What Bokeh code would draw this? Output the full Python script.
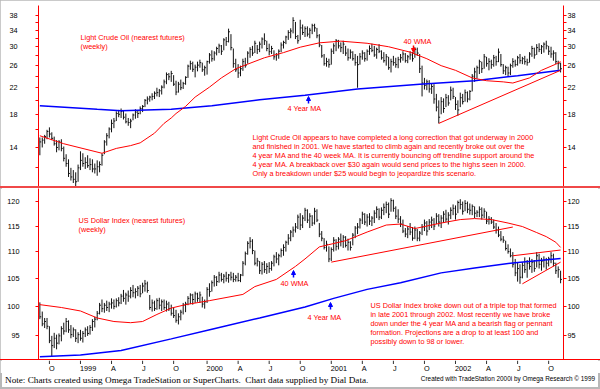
import pandas as pd
from bokeh.plotting import figure
from bokeh.layouts import column
from bokeh.core.properties import value
from bokeh.models import (Range1d, FixedTicker, LogAxis, PrintfTickFormatter, Label, Arrow,
                          NormalHead, Div, ColumnDataSource)
from bokeh.embed import file_html
from bokeh.resources import INLINE

# ---------------- data (weekly bars) ----------------
first_week = "1998-09-04"

oil_high = [
    15.1, 15.1, 15.4, 16.0, 16.3, 15.7, 15.2, 14.8, 14.8, 14.9,
    14.1, 13.3, 12.8, 12.0, 11.8, 11.6, 12.3, 13.6, 13.4, 13.0,
    13.2, 12.9, 12.8, 12.4, 12.7, 12.6, 13.4, 14.8, 15.6, 16.3,
    17.3, 17.5, 18.4, 18.6, 18.8, 18.5, 18.1, 17.5, 17.4, 18.1,
    18.7, 18.5, 19.1, 19.3, 20.2, 20.6, 20.7, 21.1, 21.4, 22.0,
    21.8, 22.4, 23.4, 24.7, 24.6, 25.0, 24.2, 23.2, 23.0, 23.4,
    23.0, 24.0, 26.2, 27.0, 26.8, 26.2, 26.8, 27.2, 26.6, 26.0,
    27.0, 28.6, 29.2, 29.0, 30.0, 30.7, 30.4, 32.0, 32.3, 34.4,
    33.0, 29.6, 27.4, 26.3, 26.0, 27.4, 27.6, 29.0, 29.9, 30.2,
    31.4, 30.4, 31.2, 32.2, 33.2, 31.4, 30.7, 30.2, 29.2, 28.6,
    29.4, 31.0, 31.4, 32.6, 34.0, 34.5, 37.5, 36.2, 32.8, 36.8,
    35.5, 35.0, 35.0, 34.6, 35.7, 35.7, 34.6, 33.0, 30.4, 28.4,
    27.6, 27.4, 29.6, 30.8, 31.8, 31.6, 31.0, 31.4, 30.2, 29.6,
    29.4, 29.0, 28.4, 28.0, 28.6, 29.2, 28.8, 29.4, 30.3, 30.7,
    30.2, 29.8, 30.6, 29.2, 28.8, 28.4, 27.8, 27.4, 28.0, 27.6,
    27.8, 28.4, 29.0, 28.6, 28.2, 29.0, 28.8, 29.9, 29.8, 28.4,
    26.0, 23.7, 23.4, 23.3, 22.8, 22.6, 21.0, 20.0, 20.5, 20.3,
    21.0, 20.8, 22.2, 22.0, 20.5, 20.0, 21.2, 21.0, 21.7, 21.4,
    21.6, 24.4, 25.6, 26.0, 27.2, 26.8, 28.4, 27.8, 27.5, 27.2,
    28.2, 28.0, 29.6, 28.4, 26.3, 26.0, 25.8, 26.4, 27.5, 27.2,
    28.0, 28.4, 27.8, 28.0, 27.4, 28.8, 30.2, 29.8, 30.6, 30.8,
    30.4, 31.0, 31.4, 30.2, 30.0, 29.2, 28.8, 27.0, 26.6]
oil_low = [
    13.2, 14.0, 14.4, 14.9, 15.1, 14.8, 14.2, 13.5, 13.7, 13.6,
    12.6, 12.1, 11.2, 10.9, 10.7, 10.4, 10.8, 11.8, 12.1, 11.9,
    12.0, 11.8, 11.6, 11.5, 11.3, 11.6, 12.2, 13.3, 14.2, 15.0,
    15.7, 16.2, 17.1, 17.6, 17.5, 17.3, 16.8, 16.5, 16.2, 17.2,
    17.4, 17.5, 18.0, 18.3, 19.0, 19.4, 19.8, 20.0, 20.2, 20.6,
    20.5, 20.9, 21.9, 22.6, 23.3, 23.0, 22.3, 20.8, 21.2, 21.6,
    21.8, 22.5, 23.7, 25.2, 24.8, 23.8, 24.9, 25.6, 24.8, 24.1,
    24.3, 26.4, 26.8, 27.0, 28.1, 28.6, 28.2, 29.2, 30.2, 31.0,
    29.2, 25.6, 24.8, 23.7, 24.0, 25.0, 25.6, 26.4, 27.6, 28.0,
    28.6, 28.4, 28.8, 29.6, 30.4, 29.0, 28.1, 28.4, 27.2, 27.0,
    27.4, 28.8, 29.6, 30.6, 31.6, 32.0, 33.2, 31.8, 30.7, 31.6,
    32.8, 32.3, 32.4, 32.0, 33.0, 33.6, 32.0, 29.9, 27.6, 26.0,
    25.8, 25.6, 26.2, 28.4, 29.0, 29.6, 28.8, 28.4, 28.0, 27.0,
    27.4, 27.0, 26.0, 22.0, 26.2, 27.2, 26.8, 27.0, 28.2, 28.8,
    27.8, 27.4, 28.6, 27.2, 26.6, 26.0, 25.2, 24.7, 26.0, 25.6,
    25.5, 26.6, 27.0, 26.6, 26.5, 27.2, 26.8, 27.6, 28.0, 24.6,
    20.6, 21.7, 21.6, 21.2, 21.0, 19.5, 18.4, 16.8, 18.0, 18.2,
    19.0, 19.2, 20.0, 20.2, 18.6, 17.8, 19.0, 19.4, 19.8, 19.7,
    20.0, 21.4, 23.0, 23.6, 24.4, 24.6, 25.4, 25.8, 25.1, 25.4,
    25.8, 26.0, 26.7, 25.8, 24.4, 24.2, 24.0, 24.2, 25.6, 25.8,
    26.0, 26.4, 26.3, 26.2, 26.0, 26.6, 27.8, 27.4, 28.2, 28.8,
    28.4, 28.7, 29.4, 28.2, 27.6, 27.0, 26.3, 25.2, 24.7]
oil_close = [
    14.6, 14.8, 15.2, 15.8, 15.5, 15.0, 14.4, 14.0, 14.6, 13.9,
    12.9, 12.4, 11.5, 11.2, 11.0, 10.8, 12.0, 12.7, 12.4, 12.5,
    12.2, 12.3, 11.9, 11.9, 12.1, 12.3, 13.2, 14.6, 15.3, 16.1,
    16.8, 17.1, 18.1, 18.0, 18.4, 17.6, 17.0, 16.9, 17.1, 17.9,
    18.3, 18.1, 18.8, 19.1, 20.0, 20.2, 20.5, 20.6, 21.1, 21.2,
    21.5, 22.1, 23.0, 24.3, 23.9, 24.5, 22.6, 21.3, 22.6, 22.0,
    22.7, 23.8, 25.9, 26.4, 25.3, 25.7, 26.1, 26.6, 25.2, 25.6,
    26.8, 28.2, 27.4, 28.6, 29.6, 30.2, 29.0, 31.6, 31.2, 33.6,
    29.8, 26.4, 25.2, 24.6, 25.4, 26.8, 26.0, 28.6, 29.4, 28.6,
    30.8, 29.4, 30.6, 31.8, 31.4, 29.6, 28.9, 29.6, 27.8, 28.2,
    29.0, 30.4, 31.0, 32.3, 33.4, 33.8, 36.6, 32.4, 31.4, 34.6,
    33.4, 34.4, 33.0, 34.0, 35.2, 34.6, 32.6, 30.4, 28.0, 26.4,
    26.8, 26.2, 29.0, 30.2, 31.4, 30.2, 29.8, 30.6, 28.6, 27.6,
    28.8, 27.4, 26.6, 26.2, 27.8, 28.6, 27.4, 29.0, 29.6, 29.2,
    28.2, 29.4, 29.0, 27.6, 27.0, 27.8, 25.6, 26.8, 26.6, 26.2,
    27.2, 27.6, 28.4, 27.0, 27.8, 28.2, 27.4, 29.4, 28.6, 25.4,
    22.8, 22.4, 23.0, 21.8, 22.2, 20.2, 19.0, 17.6, 19.8, 18.8,
    20.4, 19.6, 21.6, 20.6, 19.4, 18.6, 20.4, 19.8, 21.2, 20.2,
    21.4, 24.0, 24.8, 25.6, 26.8, 25.4, 27.8, 26.4, 26.8, 26.2,
    27.6, 26.8, 28.8, 26.2, 25.0, 25.6, 24.6, 26.0, 26.8, 26.2,
    27.6, 27.0, 27.4, 26.8, 26.6, 28.4, 29.6, 28.2, 29.8, 29.4,
    30.0, 30.6, 30.2, 29.0, 28.4, 28.6, 26.8, 26.4, 25.4]

usd_high = [
    100.7, 99.1, 98.0, 98.0, 96.6, 95.0, 95.5, 95.2, 95.4, 96.6,
    97.2, 98.0, 97.6, 96.8, 96.4, 96.1, 95.6, 96.0, 95.8, 96.4,
    96.6, 96.8, 97.8, 98.2, 99.2, 100.6, 101.2, 100.6, 101.0, 100.8,
    101.4, 101.2, 101.4, 101.6, 102.2, 102.9, 102.4, 102.8, 103.4, 103.8,
    103.2, 103.6, 103.8, 104.2, 104.7, 104.4, 102.0, 101.2, 101.0, 101.4,
    101.5, 101.2, 101.2, 101.0, 100.8, 100.3, 99.8, 99.4, 98.8, 99.4,
    100.6, 100.8, 101.8, 102.3, 102.2, 102.6, 102.4, 102.6, 101.7, 101.2,
    103.4, 104.1, 104.6, 105.6, 105.4, 106.2, 106.0, 105.8, 106.2, 105.8,
    106.2, 106.0, 105.6, 106.0, 105.8, 108.2, 110.0, 112.0, 112.8, 112.4,
    110.2, 108.8, 108.2, 108.0, 108.2, 107.8, 108.0, 108.2, 109.4, 109.9,
    109.6, 110.6, 111.4, 112.1, 113.4, 114.2, 114.9, 115.6, 117.3, 117.6,
    117.2, 118.7, 118.4, 117.6, 117.2, 118.7, 118.4, 115.6, 114.0, 112.6,
    112.1, 111.0, 110.8, 112.8, 112.4, 112.8, 113.5, 113.2, 113.0, 112.5,
    112.0, 113.6, 115.0, 115.6, 116.6, 117.9, 117.6, 117.4, 117.6, 117.0,
    118.2, 119.0, 118.6, 118.8, 119.6, 120.0, 119.8, 120.7, 120.4, 119.0,
    118.4, 117.0, 116.3, 114.6, 115.0, 115.6, 114.8, 114.9, 114.4, 114.0,
    115.4, 116.3, 116.0, 116.4, 116.9, 116.6, 117.6, 117.4, 117.2, 118.0,
    118.3, 117.8, 118.8, 119.4, 119.2, 120.2, 120.5, 120.0, 120.3, 120.0,
    119.6, 119.4, 119.0, 118.2, 119.0, 118.8, 118.6, 117.9, 117.0, 116.8,
    116.3, 115.6, 114.9, 114.0, 113.0, 112.1, 111.4, 110.6, 109.9, 108.6,
    107.9, 107.6, 108.0, 108.9, 108.4, 108.9, 108.6, 108.4, 109.9, 109.6,
    108.8, 109.1, 108.8, 109.0, 109.9, 109.6, 107.9, 107.2, 106.4]
usd_low = [
    97.8, 96.6, 96.3, 96.1, 93.8, 91.6, 93.0, 92.8, 93.6, 94.1,
    95.2, 95.6, 95.5, 94.6, 94.8, 94.0, 93.8, 94.2, 93.9, 94.8,
    95.0, 95.2, 95.8, 96.4, 97.6, 98.6, 99.0, 98.9, 99.2, 99.0,
    99.6, 99.5, 99.8, 100.0, 100.4, 100.8, 100.3, 100.8, 101.4, 101.6,
    101.4, 101.8, 101.6, 102.3, 102.6, 102.4, 99.4, 99.1, 99.2, 99.4,
    99.5, 99.2, 99.4, 99.1, 99.2, 98.4, 98.0, 97.2, 96.9, 97.6,
    98.6, 99.0, 100.2, 100.4, 100.3, 100.6, 100.8, 100.6, 99.8, 99.6,
    100.6, 101.7, 102.6, 103.5, 103.6, 104.2, 104.4, 104.1, 104.4, 104.2,
    104.6, 104.3, 104.4, 104.4, 104.3, 105.4, 107.4, 109.4, 110.6, 109.5,
    107.4, 107.2, 105.8, 105.7, 106.0, 105.8, 106.0, 106.4, 107.2, 107.8,
    107.4, 108.9, 109.2, 110.0, 111.3, 112.0, 112.8, 113.7, 114.4, 114.2,
    114.6, 116.0, 115.6, 114.6, 115.0, 115.3, 115.8, 112.8, 112.0, 110.4,
    110.0, 108.0, 108.2, 110.0, 110.2, 110.4, 111.0, 110.7, 110.8, 110.2,
    110.2, 111.2, 112.6, 113.4, 114.5, 115.4, 115.2, 114.9, 115.2, 115.0,
    115.6, 116.6, 116.2, 116.4, 117.2, 117.6, 116.6, 117.9, 117.9, 116.4,
    115.6, 114.8, 113.6, 112.8, 112.6, 113.2, 112.1, 112.4, 112.0, 112.0,
    113.2, 114.0, 113.1, 114.2, 114.6, 114.2, 115.4, 114.9, 114.6, 115.6,
    115.8, 115.3, 116.4, 117.2, 116.3, 117.6, 118.4, 117.3, 118.0, 117.6,
    117.3, 117.2, 116.6, 116.8, 116.8, 116.3, 116.6, 115.4, 115.3, 115.4,
    114.4, 113.5, 112.8, 112.0, 111.7, 110.2, 109.6, 108.9, 107.0, 105.4,
    104.4, 104.0, 105.0, 106.0, 105.1, 106.6, 106.0, 106.2, 107.0, 106.8,
    106.4, 107.0, 106.6, 107.2, 107.8, 107.2, 105.8, 105.1, 104.1]
usd_close = [
    98.2, 97.0, 97.4, 96.6, 94.2, 93.4, 94.6, 93.8, 95.0, 96.2,
    95.8, 97.4, 96.0, 95.2, 96.0, 94.6, 95.2, 94.6, 95.4, 96.0,
    95.4, 96.4, 97.4, 97.8, 98.8, 100.2, 99.6, 100.2, 99.8, 100.4,
    100.6, 100.0, 101.0, 100.6, 101.8, 101.4, 102.0, 101.8, 102.8, 102.4,
    102.6, 103.2, 102.2, 103.6, 104.0, 102.8, 99.8, 100.6, 99.6, 101.0,
    100.2, 100.8, 99.8, 100.4, 99.6, 98.8, 98.4, 97.6, 98.2, 99.0,
    100.2, 100.4, 101.4, 102.0, 101.2, 102.2, 101.4, 102.0, 100.4, 100.8,
    103.0, 102.6, 104.2, 105.2, 104.4, 105.6, 104.8, 105.4, 105.0, 105.6,
    105.2, 104.8, 105.2, 104.6, 105.6, 107.8, 109.6, 111.6, 112.0, 110.2,
    107.8, 108.2, 106.4, 107.6, 106.6, 107.2, 106.8, 107.8, 109.0, 108.6,
    109.2, 110.2, 110.8, 111.8, 112.6, 113.8, 114.2, 114.8, 116.8, 115.2,
    116.6, 118.2, 116.2, 117.0, 115.6, 118.0, 116.2, 113.4, 112.6, 110.8,
    111.4, 108.6, 110.4, 112.2, 111.0, 112.4, 112.0, 112.8, 111.2, 111.8,
    110.8, 113.2, 114.6, 114.8, 116.2, 117.4, 115.8, 116.8, 116.0, 116.6,
    117.6, 118.4, 116.8, 118.2, 118.8, 119.4, 117.4, 120.2, 118.6, 117.0,
    116.4, 115.4, 114.0, 113.4, 114.4, 113.8, 112.6, 114.2, 112.6, 113.6,
    114.8, 115.6, 114.0, 115.8, 116.2, 115.0, 117.0, 115.8, 116.6, 117.4,
    116.4, 117.2, 118.2, 118.6, 117.4, 119.8, 119.4, 118.0, 119.6, 118.4,
    118.2, 119.0, 117.6, 117.8, 118.4, 117.2, 118.0, 116.0, 116.4, 115.8,
    114.8, 114.2, 113.2, 112.4, 112.2, 110.6, 110.0, 109.2, 107.6, 106.0,
    106.8, 105.2, 107.4, 106.6, 107.8, 107.2, 108.0, 106.8, 109.2, 107.6,
    108.2, 108.4, 107.8, 108.6, 109.2, 107.8, 106.4, 106.6, 104.8]

# moving averages and trendlines (week number -> value)
oil_ma40_wk = [0, 10, 26, 32, 38, 42, 48, 52, 55, 57, 61, 65, 71, 76, 82, 87, 94, 102, 109, 117,
               126, 137, 146, 155, 162, 168, 174, 181, 187, 194, 198, 205, 210, 216, 218]
oil_ma40 = [15.3, 14.4, 13.4, 13.9, 14.2, 14.5, 15.6, 16.8, 17.5, 18.1, 19.1, 20.5, 22.1, 23.7, 25.4,
            26.3, 27.6, 28.7, 29.9, 30.9, 31.3, 30.8, 30.0, 28.8, 27.4, 26.0, 25.1, 23.7, 23.2, 23.0,
            22.8, 23.7, 25.1, 26.3, 26.8]
oil_ma4y_wk = [0, 24, 34, 55, 72, 92, 111, 133, 159, 182, 200, 218]
oil_ma4y = [19.2, 18.7, 18.5, 18.7, 19.2, 20.1, 20.8, 21.8, 22.6, 23.2, 24.1, 25.1]
oil_trend_wk = [167, 218]
oil_trend = [16.8, 25.1]

usd_ma40_wk = [0, 9, 17, 24, 31, 38, 43, 49, 55, 61, 71, 85, 90, 99, 107, 111, 117, 128, 137, 145,
               151, 157, 168, 176, 182, 189, 196, 202, 208, 212, 216, 218]
usd_ma40 = [100.3, 99.8, 99.2, 98.0, 97.4, 97.2, 97.4, 98.6, 99.7, 100.3, 101.0, 102.1, 103.5, 104.8,
            107.2, 108.6, 110.9, 112.1, 113.8, 115.2, 115.4, 114.5, 115.6, 116.3, 116.5, 116.3, 115.6,
            114.9, 113.7, 112.9, 111.8, 110.8]
usd_ma4y_wk = [0, 17, 34, 55, 72, 92, 111, 123, 137, 151, 168, 182, 199, 218]
usd_ma4y = [91.6, 91.9, 92.6, 94.5, 96.1, 98.0, 99.9, 101.4, 103.0, 104.2, 106.0, 106.9, 107.9, 108.7]
usd_trend1_wk = [122, 198]
usd_trend1 = [108.0, 114.8]
usd_flag_top_wk = [198, 218]
usd_flag_top = [109.2, 110.3]
usd_flag_bot_wk = [202, 218]
usd_flag_bot = [104.0, 108.0]

oil_ticks = [14, 18, 22, 26, 30, 34, 38]
oil_minor_ticks = [12, 16, 20, 24, 28, 32, 36]
usd_ticks = [95, 100, 105, 110, 115, 120]
quarter_labels = {1: None, 4: "A", 7: "J", 10: "O"}

oil_text = ["Light Crude Oil appears to have completed a long correction that got underway in 2000",
            "and finished in 2001. We have started to climb again and recently broke out over the",
            "4 year MA and the 40 week MA. It is currently bouncing off trendline support around the",
            "4 year MA. A breakback over $30 again would send prices to the highs seen in 2000.",
            " Only a breakdown under $25 would begin to jeopardize this scenario."]
usd_text = ["US Dollar Index broke down out of a triple top that formed",
            "in late 2001 through 2002. Most recently we have broke",
            "down under the 4 year MA and a bearish flag or pennant",
            "formation. Projections are a drop to at least 100 and",
            "possibly down to 98 or lower."]
note_text = "Note: Charts created using Omega TradeStation or SuperCharts.&nbsp; Chart data supplied by Dial Data."
credit_text = "Created with TradeStation 2000i by Omega Research &copy; 1999"

# ---------------- build ----------------
RED = "#ff0000"
BLUE = "#0000ff"
FONT = "Liberation Sans"
TXT = "7.3px"
W = 600

n = min(len(a) for a in (oil_high, oil_low, oil_close, usd_high, usd_low, usd_close))
weeks = pd.date_range(first_week, periods=n, freq="7D")
tick_len = pd.Timedelta(days=4)

def wk_dates(idx):
    return [weeks[min(i, n - 1)] for i in idx]

xr = Range1d(start=pd.Timestamp("1998-08-31"), end=pd.Timestamp("2002-11-16 12:00"))

def make_panel(height, yr, btop, bbottom, ytype="log"):
    p = figure(width=W, height=height, x_range=xr, y_range=yr, x_axis_type="datetime",
               y_axis_type=ytype, x_axis_location=None,
               y_axis_location="left" if ytype == "log" else None,
               toolbar_location=None, output_backend="svg",
               min_border_left=38, min_border_right=37, min_border_top=btop,
               min_border_bottom=bbottom)
    p.outline_line_color = None
    p.grid.visible = False
    p.background_fill_color = "white"
    p.border_fill_color = "white"
    return p

def style_y(ax, standoff):
    ax.axis_line_color = RED
    ax.major_tick_line_color = RED
    ax.minor_tick_line_color = RED
    ax.major_tick_out = 3
    ax.major_tick_in = 0
    ax.minor_tick_out = 3
    ax.minor_tick_in = 0
    ax.major_label_text_font = FONT
    ax.major_label_text_font_size = "7.3px"
    ax.major_label_text_color = "black"
    ax.major_label_standoff = standoff

def draw_bars(p, hi, lo, cl):
    src = ColumnDataSource(dict(x=weeks, x1=weeks + tick_len, hi=hi[:n], lo=lo[:n], cl=cl[:n]))
    p.segment(x0="x", y0="lo", x1="x", y1="hi", source=src, line_color="#111111", line_width=1)
    p.segment(x0="x", y0="cl", x1="x1", y1="cl", source=src, line_color="#111111", line_width=1)

def add_text(p, x, y, text, color=RED, size=TXT, align="left", font=FONT):
    p.add_layout(Label(x=x, y=y, x_units="screen", y_units="screen", text=text,
                       text_color=color, text_font_size=size, text_font=font,
                       text_align=align, text_baseline="middle"))

def add_arrow(p, x, y0, y1, color):
    p.add_layout(Arrow(x_start=x, y_start=y0, x_end=x, y_end=y1,
                       start_units="screen", end_units="screen",
                       line_color=color, line_width=1.5,
                       end=NormalHead(size=4, fill_color=color, line_color=color)))

def hline(h, color):
    return Div(text="", width=W, height=h, margin=0,
               styles={"background-color": color})

# ---- top panel: crude oil (page y 5..186) ----
p1 = make_panel(186, Range1d(10.42, 40.99), 5, 0)
draw_bars(p1, oil_high, oil_low, oil_close)
p1.line(wk_dates(oil_ma4y_wk), oil_ma4y, line_color=BLUE, line_width=1.5)
p1.line(wk_dates(oil_ma40_wk), oil_ma40, line_color=RED, line_width=1)
p1.line(wk_dates(oil_trend_wk), oil_trend, line_color=RED, line_width=1)

ly1 = p1.yaxis[0]
ly1.ticker = FixedTicker(ticks=oil_ticks, minor_ticks=oil_minor_ticks)
ly1.formatter = PrintfTickFormatter(format="%d")
style_y(ly1, 18)
ry1 = LogAxis(ticker=FixedTicker(ticks=oil_ticks, minor_ticks=oil_minor_ticks),
              formatter=PrintfTickFormatter(format="%d"))
style_y(ry1, 1)
p1.add_layout(ry1, "right")

add_text(p1, 42, 149, "Light Crude Oil (nearest futures)")
add_text(p1, 42, 140, "(weekly)")
add_text(p1, 365, 145, "40 WMA")
add_text(p1, 249, 78, "4 Year MA")
for i, line in enumerate(oil_text):
    add_text(p1, 214, 49 - 9 * i, line)
add_arrow(p1, 375, 141, 134, RED)
add_arrow(p1, 270, 83, 90, BLUE)

# ---- bottom panel: US dollar index (page y 188..359) ----
p2 = make_panel(171, Range1d(91.17, 122.76), 0, 0)
draw_bars(p2, usd_high, usd_low, usd_close)
p2.line(wk_dates(usd_ma4y_wk), usd_ma4y, line_color=BLUE, line_width=1.5)
p2.line(wk_dates(usd_ma40_wk), usd_ma40, line_color=RED, line_width=1)
p2.line(wk_dates(usd_trend1_wk), usd_trend1, line_color=RED, line_width=1)
p2.line(wk_dates(usd_flag_top_wk), usd_flag_top, line_color=RED, line_width=1)
p2.line(wk_dates(usd_flag_bot_wk), usd_flag_bot, line_color=RED, line_width=1)

ly2 = p2.yaxis[0]
ly2.ticker = FixedTicker(ticks=usd_ticks)
ly2.formatter = PrintfTickFormatter(format="%d")
style_y(ly2, 16)
ry2 = LogAxis(ticker=FixedTicker(ticks=usd_ticks), formatter=PrintfTickFormatter(format="%d"))
style_y(ry2, 1)
p2.add_layout(ry2, "right")

add_text(p2, 40, 139, "US Dollar Index (nearest futures)")
add_text(p2, 40, 130, "(weekly)")
add_text(p2, 242, 76, "40 WMA")
add_text(p2, 269, 42, "4 Year MA")
for i, line in enumerate(usd_text):
    add_text(p2, 332, 54 - 9 * i, line)
add_arrow(p2, 255, 82, 89, BLUE)
add_arrow(p2, 292, 50, 57, BLUE)

# ---- time scale strip (shares the x scale), page y 360..373 ----
tick_dates, tick_text = [], []
prev = None
for d in weeks:
    if prev is not None and d.month != prev.month and d.month in quarter_labels:
        tick_dates.append(d)
        lab = quarter_labels[d.month]
        tick_text.append(str(d.year) if lab is None else lab)
    prev = d

p3 = make_panel(13, Range1d(0, 13), 0, 0, ytype="linear")
p3.segment(x0=tick_dates, y0=[13] * len(tick_dates), x1=tick_dates, y1=[9.5] * len(tick_dates),
           line_color="#333333", line_width=1)
p3.text(x=tick_dates, y=[5.5] * len(tick_dates), text=tick_text, text_align="left",
        text_baseline="middle", text_font=value(FONT), text_font_size=value("7.3px"),
        text_color="black", x_offset=-0.5)

# ---- footer (page y 373..389) ----
footer_html = (
    '<div style="position:relative;width:600px;height:16px;">'
    '<span style="position:absolute;left:5px;top:1px;white-space:pre;'
    "font-family:'Liberation Serif';font-size:9.2px;line-height:12px;color:#000;\">"
    + note_text + '</span>'
    '<span style="position:absolute;right:5px;top:0px;white-space:pre;'
    "font-family:'Liberation Sans';font-size:6.4px;line-height:12px;color:#000;\">"
    + credit_text + '</span></div>')
footer = Div(text=footer_html, width=W, height=16, margin=0)

layout = column(p1, hline(2, "#f04848"), p2, hline(1, RED), p3, footer, spacing=0,
                styles={"outline": "2px solid #b8b8b8", "outline-offset": "-2px"})

open("out.html", "w").write(file_html(layout, INLINE))
